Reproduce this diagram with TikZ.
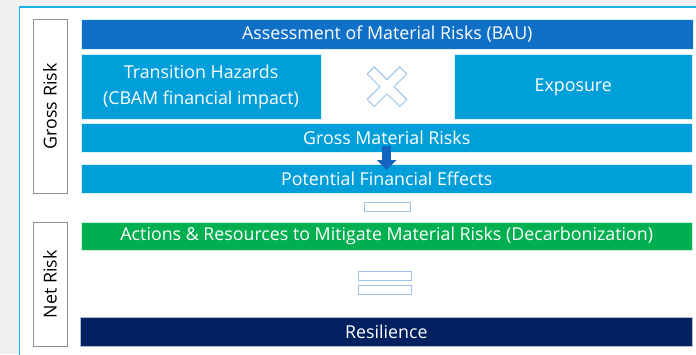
\documentclass[tikz,border=0pt]{standalone}
\usepackage{fontspec}
\setmainfont{Open Sans}
\usetikzlibrary{arrows.meta}
\definecolor{bggray}{HTML}{F0F0F0}
\definecolor{framecyan}{HTML}{1DB1EA}
\definecolor{baublue}{HTML}{1070C8}
\definecolor{lightblue}{HTML}{009FDA}
\definecolor{actgreen}{HTML}{00B050}
\definecolor{navy}{HTML}{002060}
\definecolor{arrowblue}{HTML}{1565C0}
\definecolor{symline}{HTML}{9DC3E6}
\definecolor{labgray}{HTML}{909090}
\tikzset{
  bar/.style={draw=white!85!lightblue, line width=0.5pt, anchor=north west, inner sep=0pt,
    text=white, font=\fontsize{17.8}{26}\selectfont, align=center},
  sidebox/.style={draw=labgray, fill=white, line width=0.8pt, anchor=north west, inner sep=0pt,
    minimum width=34pt},
  sidelabel/.style={rotate=90, font=\fontsize{17.8}{20}\selectfont, text=black},
  symbox/.style={draw=symline, fill=white, line width=1pt, anchor=north west, inner sep=0pt}
}
\begin{document}
\begin{tikzpicture}[x=1pt,y=-1pt]
\useasboundingbox (0,0) rectangle (696,354);
\fill[bggray] (0,0) rectangle (696,354);
\fill[white] (19.5,7) rectangle (700,360);
\draw[framecyan, line width=1.5pt] (700,7) -- (19.5,7) -- (19.5,360);
% side labels
\node[sidebox, minimum height=174.5pt] (gbox) at (32.5,18.7) {};
\node[sidelabel] (glab) at (gbox.center) {Gross Risk};
\node[sidebox, minimum height=124.5pt] (nbox) at (32.5,221.7) {};
\node[sidelabel] (nlab) at (nbox.center) {Net Risk};
% bars
\node[bar, fill=baublue, minimum width=612pt, minimum height=29.4pt] (bau) at (81,19.3) {Assessment of Material Risks (BAU)};
\node[bar, fill=lightblue, minimum width=239.7pt, minimum height=64.7pt] (th) at (81,54.3) {Transition Hazards\\(CBAM financial impact)};
\node[bar, fill=lightblue, minimum width=238.6pt, minimum height=64.7pt] (exp) at (453.7,54.3) {Exposure};
\node[bar, fill=lightblue, minimum width=611pt, minimum height=29pt] (gmr) at (81,123.3) {Gross Material Risks};
\node[bar, fill=lightblue, minimum width=611pt, minimum height=28.7pt] (pfe) at (81,164) {Potential Financial Effects};
\node[bar, fill=actgreen, draw=white!80!actgreen, minimum width=611pt, minimum height=28.6pt] (act) at (81,221.7) {Actions \& Resources to Mitigate Material Risks (Decarbonization)};
\node[bar, fill=navy, draw=white!70!navy, minimum width=612.3pt, minimum height=29pt] (res) at (80,316.7) {Resilience};
% multiply sign
\coordinate (xc) at (387,86.7);
\draw[symline, fill=white, line width=1pt, shift={(xc)}, rotate=45]
  (5,23) -- (5,5) -- (23,5) -- (23,-5) -- (5,-5) -- (5,-23) -- (-5,-23) -- (-5,-5)
  -- (-23,-5) -- (-23,5) -- (-5,5) -- (-5,23) -- cycle;
% arrow
\draw[arrowblue, line width=9pt, -{Triangle[width=19pt,length=10pt]}]
  ([yshift=7.3pt]gmr.south) -- ([yshift=-6pt]pfe.north);
% minus and equals
\node[symbox, minimum width=46pt, minimum height=8.4pt] (minus) at (363.7,202.3) {};
\node[symbox, minimum width=53pt, minimum height=9.3pt] (eq1) at (358.3,270.7) {};
\node[symbox, minimum width=53pt, minimum height=9.6pt] (eq2) at (358.3,284.7) {};
\end{tikzpicture}
\end{document}
